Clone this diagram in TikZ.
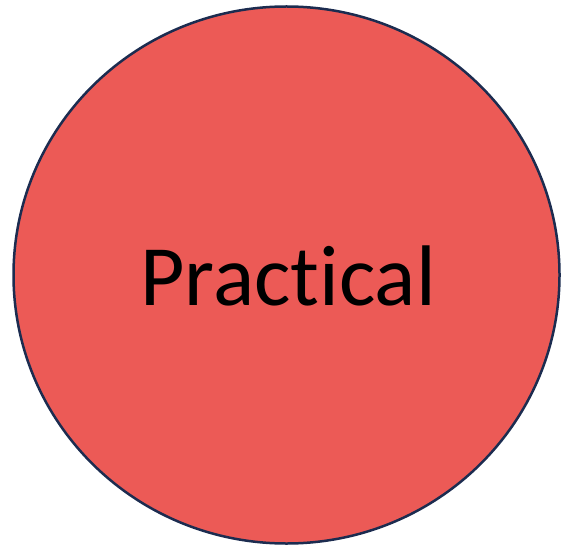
\documentclass[tikz,border=0pt]{standalone}
\usepackage{fontspec}
\setmainfont[Ligatures=NoCommon]{Carlito}
\usetikzlibrary{shapes.geometric}
\definecolor{circfill}{RGB}{236,90,86}
\definecolor{circline}{RGB}{28,44,80}
\begin{document}
\begin{tikzpicture}[x=1pt,y=1pt,
  bubble/.style={ellipse, draw=circline, line width=2.5pt, fill=circfill, minimum width=546pt, minimum height=537pt, inner sep=0pt},
  bubbletext/.style={font=\fontsize{86}{90}\selectfont, text=black, anchor=base, inner sep=0pt}]
\useasboundingbox (0,0) rectangle (561,547);
\node[bubble] (c) at (286.5,272) {};
\node[bubbletext] (t) at (288,242) {Practical};
\end{tikzpicture}
\end{document}
